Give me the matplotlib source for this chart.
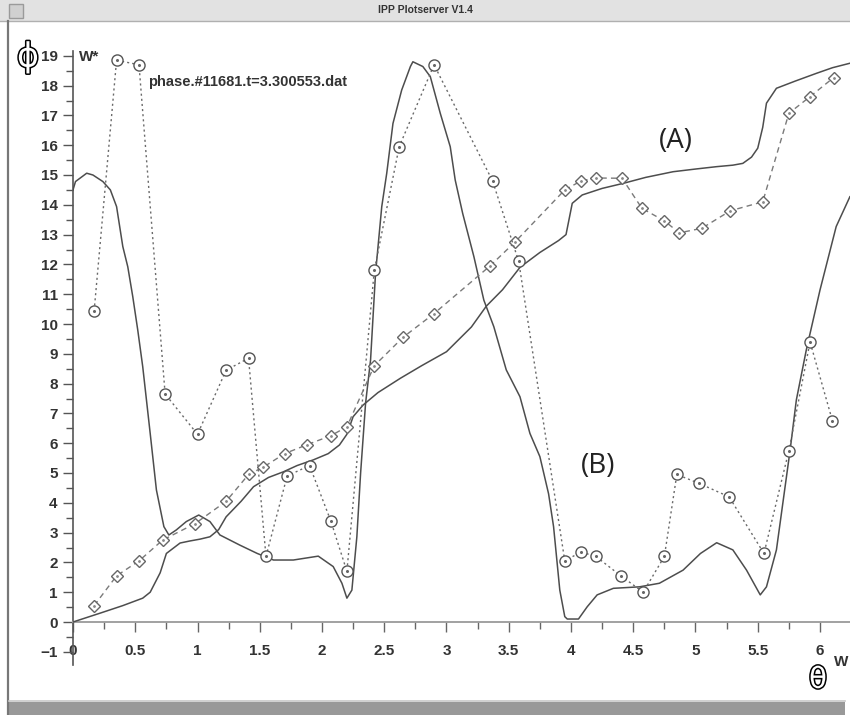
import numpy as np
import matplotlib
matplotlib.use('Agg')
import matplotlib.pyplot as plt
from matplotlib.patches import Rectangle
from matplotlib.lines import Line2D
import matplotlib.patheffects as pe

# solid profile (A), monotone rise
a_theta = [0, 0.22, 0.4, 0.56, 0.62, 0.7, 0.75, 0.86, 0.94, 1.02, 1.1, 1.17, 1.23,
           1.35, 1.45, 1.57, 1.69, 1.8, 1.93, 2.05, 2.14, 2.2, 2.25, 2.33, 2.45,
           2.63, 2.8, 3.0, 3.2, 3.32, 3.45, 3.59, 3.75, 3.9, 3.96, 4.01, 4.09,
           4.25, 4.42, 4.6, 4.82, 5.0, 5.17, 5.3, 5.38, 5.45, 5.5, 5.54, 5.57,
           5.65, 5.8, 5.97, 6.1, 6.24]
a_phi = [0, 0.3, 0.55, 0.8, 1.0, 1.65, 2.3, 2.65, 2.72, 2.78, 2.86, 3.1, 3.53,
         4.05, 4.54, 4.85, 5.04, 5.25, 5.44, 5.65, 5.94, 6.3, 6.89, 7.28, 7.7,
         8.18, 8.6, 9.07, 9.9, 10.6, 11.15, 11.9, 12.4, 12.8, 13.0, 14.05, 14.33,
         14.55, 14.72, 14.92, 15.11, 15.2, 15.28, 15.33, 15.39, 15.6, 15.9, 16.6,
         17.41, 17.91, 18.15, 18.41, 18.6, 18.75]

# solid profile (B)
b_theta = [0, 0.02, 0.11, 0.16, 0.24, 0.3, 0.35, 0.4, 0.44, 0.48, 0.52, 0.56,
           0.62, 0.67, 0.73, 0.77, 0.83, 0.91, 1.01, 1.1, 1.18, 1.34, 1.48, 1.61,
           1.77, 1.97, 2.09, 2.16, 2.2, 2.24, 2.28, 2.31, 2.35, 2.39, 2.43, 2.48,
           2.52, 2.57, 2.64, 2.71, 2.73, 2.81, 2.87, 2.95, 3.03, 3.07, 3.13, 3.22,
           3.3, 3.38, 3.48, 3.59, 3.67, 3.75, 3.82, 3.86, 3.91, 3.95, 3.97, 4.06,
           4.13, 4.21, 4.34, 4.55, 4.71, 4.9, 5.04, 5.17, 5.3, 5.41, 5.52, 5.57,
           5.65, 5.76, 5.81, 5.89, 6.0, 6.13, 6.24]
b_phi = [14.5, 14.78, 15.06, 15.0, 14.78, 14.5, 13.94, 12.6, 11.92, 10.92, 9.8,
         8.57, 6.33, 4.43, 3.2, 2.92, 3.09, 3.37, 3.59, 3.37, 2.92, 2.58, 2.3,
         2.08, 2.08, 2.21, 1.86, 1.3, 0.8, 1.07, 2.86, 4.99, 7.34, 8.79, 11.7,
         13.94, 15.06, 16.73, 17.85, 18.64, 18.8, 18.64, 18.3, 17.07, 15.95,
         14.83, 13.71, 12.26, 10.8, 9.91, 8.46, 7.56, 6.33, 5.55, 4.3, 3.2, 1.07,
         0.18, 0.1, 0.1, 0.51, 0.91, 1.13, 1.18, 1.3, 1.74, 2.3, 2.66, 2.42, 1.74,
         0.91, 1.18, 2.42, 5.77, 7.45, 9.13, 11.14, 13.27, 14.27]

# sampled points for (A), diamonds
da_theta = [0.17, 0.35, 0.53, 0.72, 0.98, 1.23, 1.41, 1.53, 1.7, 1.88, 2.07, 2.2,
            2.42, 2.65, 2.9, 3.35, 3.55, 3.95, 4.08, 4.2, 4.41, 4.57, 4.75, 4.87,
            5.05, 5.28, 5.54, 5.75, 5.92, 6.11]
da_phi = [0.55, 1.55, 2.05, 2.75, 3.3, 4.05, 4.95, 5.2, 5.65, 5.95, 6.25, 6.55,
          8.6, 9.55, 10.35, 11.95, 12.75, 14.5, 14.8, 14.9, 14.89, 13.88, 13.46,
          13.06, 13.21, 13.8, 14.1, 17.07, 17.63, 18.27]

# sampled points for (B), circles
db_theta = [0.17, 0.35, 0.53, 0.74, 1.0, 1.23, 1.41, 1.55, 1.72, 1.9, 2.07, 2.2,
            2.42, 2.62, 2.9, 3.37, 3.58, 3.95, 4.08, 4.2, 4.4, 4.58, 4.75, 4.85,
            5.03, 5.27, 5.55, 5.75, 5.92, 6.1]
db_phi = [10.45, 18.85, 18.7, 7.65, 6.3, 8.45, 8.85, 2.2, 4.9, 5.25, 3.4, 1.7,
          11.8, 15.95, 18.7, 14.8, 12.1, 2.05, 2.35, 2.2, 1.55, 1.0, 2.2, 4.95,
          4.65, 4.2, 2.3, 5.75, 9.4, 6.75]

x_ticks = [0, 0.5, 1, 1.5, 2, 2.5, 3, 3.5, 4, 4.5, 5, 5.5, 6]
x_ticklabels = ['0', '0.5', '1', '1.5', '2', '2.5', '3', '3.5', '4', '4.5', '5', '5.5', '6']
y_ticks = list(range(-1, 20))

W, H = 850, 715


def fx(px):
    return px / W


def fy(py):
    return 1 - py / H


plt.rcParams['font.family'] = ['Liberation Sans', 'DejaVu Sans']

fig = plt.figure(figsize=(W / 100, H / 100), dpi=100)
fig.patch.set_facecolor('white')

# axes: left spine at theta=0, axis runs past the right edge of the window
ax = fig.add_axes([fx(73), fy(665), 1 - fx(73), (665 - 51) / H])
ax.set_xlim(0, (W - 73) / 124.5)
ax.set_ylim(-(665 - 622) / 29.8, (622 - 51) / 29.8)
ax.set_facecolor('none')

for s in ['top', 'right']:
    ax.spines[s].set_visible(False)
ax.spines['bottom'].set_position(('data', 0))
ax.spines['bottom'].set_color('#9a9a9a')
ax.spines['left'].set_color('#555555')
ax.spines['bottom'].set_linewidth(1.3)
ax.spines['left'].set_linewidth(1.2)

ax.set_xticks(x_ticks)
ax.set_xticklabels(x_ticklabels)
ax.set_xticks(np.arange(0.25, 6.2, 0.5), minor=True)
ax.set_yticks(y_ticks)
ax.set_yticks(np.arange(-0.5, 19, 1.0), minor=True)
ax.tick_params(axis='x', which='major', length=7, width=1, color='#666666',
               pad=9, labelsize=11, labelcolor='#333333')
ax.tick_params(axis='x', which='minor', length=5, width=1, color='#666666')
ax.tick_params(axis='y', which='major', length=7, width=1, color='#555555',
               pad=4, labelsize=11, labelcolor='#333333')
ax.tick_params(axis='y', which='minor', length=5, width=1, color='#555555')
for lab in ax.get_xticklabels() + ax.get_yticklabels():
    lab.set_fontweight('bold')

# curves
ax.plot(a_theta, a_phi, color='#4d4d4d', lw=1.1, zorder=3)
ax.plot(b_theta, b_phi, color='#4d4d4d', lw=1.1, zorder=3)

ax.plot(da_theta, da_phi, color='#7a7a7a', lw=1.0, dashes=(4, 3),
        marker='D', markersize=6, markerfacecolor='white',
        markeredgecolor='#666666', markeredgewidth=1.0, zorder=4)
ax.plot(db_theta, db_phi, color='#6a6a6a', lw=1.0, dashes=(1.5, 2.2),
        marker='o', markersize=8, markerfacecolor='white',
        markeredgecolor='#555555', markeredgewidth=1.0, zorder=5)
ax.plot(db_theta, db_phi, ls='none', marker='o', markersize=1.2,
        color='#666666', zorder=6)
ax.plot(da_theta, da_phi, ls='none', marker='o', markersize=1.0,
        color='#888888', zorder=6)

# labels inside the frame
fig.text(fx(148), fy(82), 'phase.#11681.t=3.300553.dat', fontsize=10.5,
         fontweight='bold', color='#333333', va='center', ha='left')
fig.text(fx(79), fy(57), 'W*', fontsize=11, fontweight='bold',
         color='#333333', va='center', ha='left')
fig.text(fx(834), fy(662), 'W', fontsize=11, fontweight='bold',
         color='#333333', va='center', ha='left')
fig.text(fx(676), fy(141), '(A)', fontsize=20, family='Open Sans',
         color='#222222', va='center', ha='center')
fig.text(fx(598), fy(466), '(B)', fontsize=20, family='Open Sans',
         color='#222222', va='center', ha='center')

outline = [pe.withStroke(linewidth=2.2, foreground='black')]
fig.text(fx(28), fy(57), '\u03d5', fontsize=24, family='DejaVu Sans',
         color='white', va='center', ha='center', path_effects=outline)
fig.text(fx(818), fy(680), '\u03b8', fontsize=21, family='DejaVu Sans',
         color='white', va='center', ha='center', path_effects=outline)

# window frame: title bar, left border, bottom bar
fig.patches.append(Rectangle((0, fy(21)), 1, 21 / H, transform=fig.transFigure,
                             facecolor='#e2e2e2', edgecolor='none', zorder=1))
fig.lines.append(Line2D([0, 1], [fy(21), fy(21)], transform=fig.transFigure,
                        color='#b0b0b0', lw=1))
fig.patches.append(Rectangle((fx(9), fy(18)), 14 / W, 14 / H,
                             transform=fig.transFigure, facecolor='#d0d0d0',
                             edgecolor='#9a9a9a', lw=1, zorder=2))
fig.text(0.5, fy(10), 'IPP Plotserver V1.4', fontsize=7.5, fontweight='bold',
         color='#333333', ha='center', va='center')
fig.lines.append(Line2D([fx(8), fx(8)], [0, fy(21)], transform=fig.transFigure,
                        color='#777777', lw=1.6))
fig.patches.append(Rectangle((fx(9), 0), (845 - 9) / W, 13 / H,
                             transform=fig.transFigure, facecolor='#999999',
                             edgecolor='none', zorder=1))
fig.lines.append(Line2D([fx(9), fx(845)], [fy(701), fy(701)],
                        transform=fig.transFigure, color='#c8c8c8', lw=1.2))

fig.savefig('out.png', dpi=100)
